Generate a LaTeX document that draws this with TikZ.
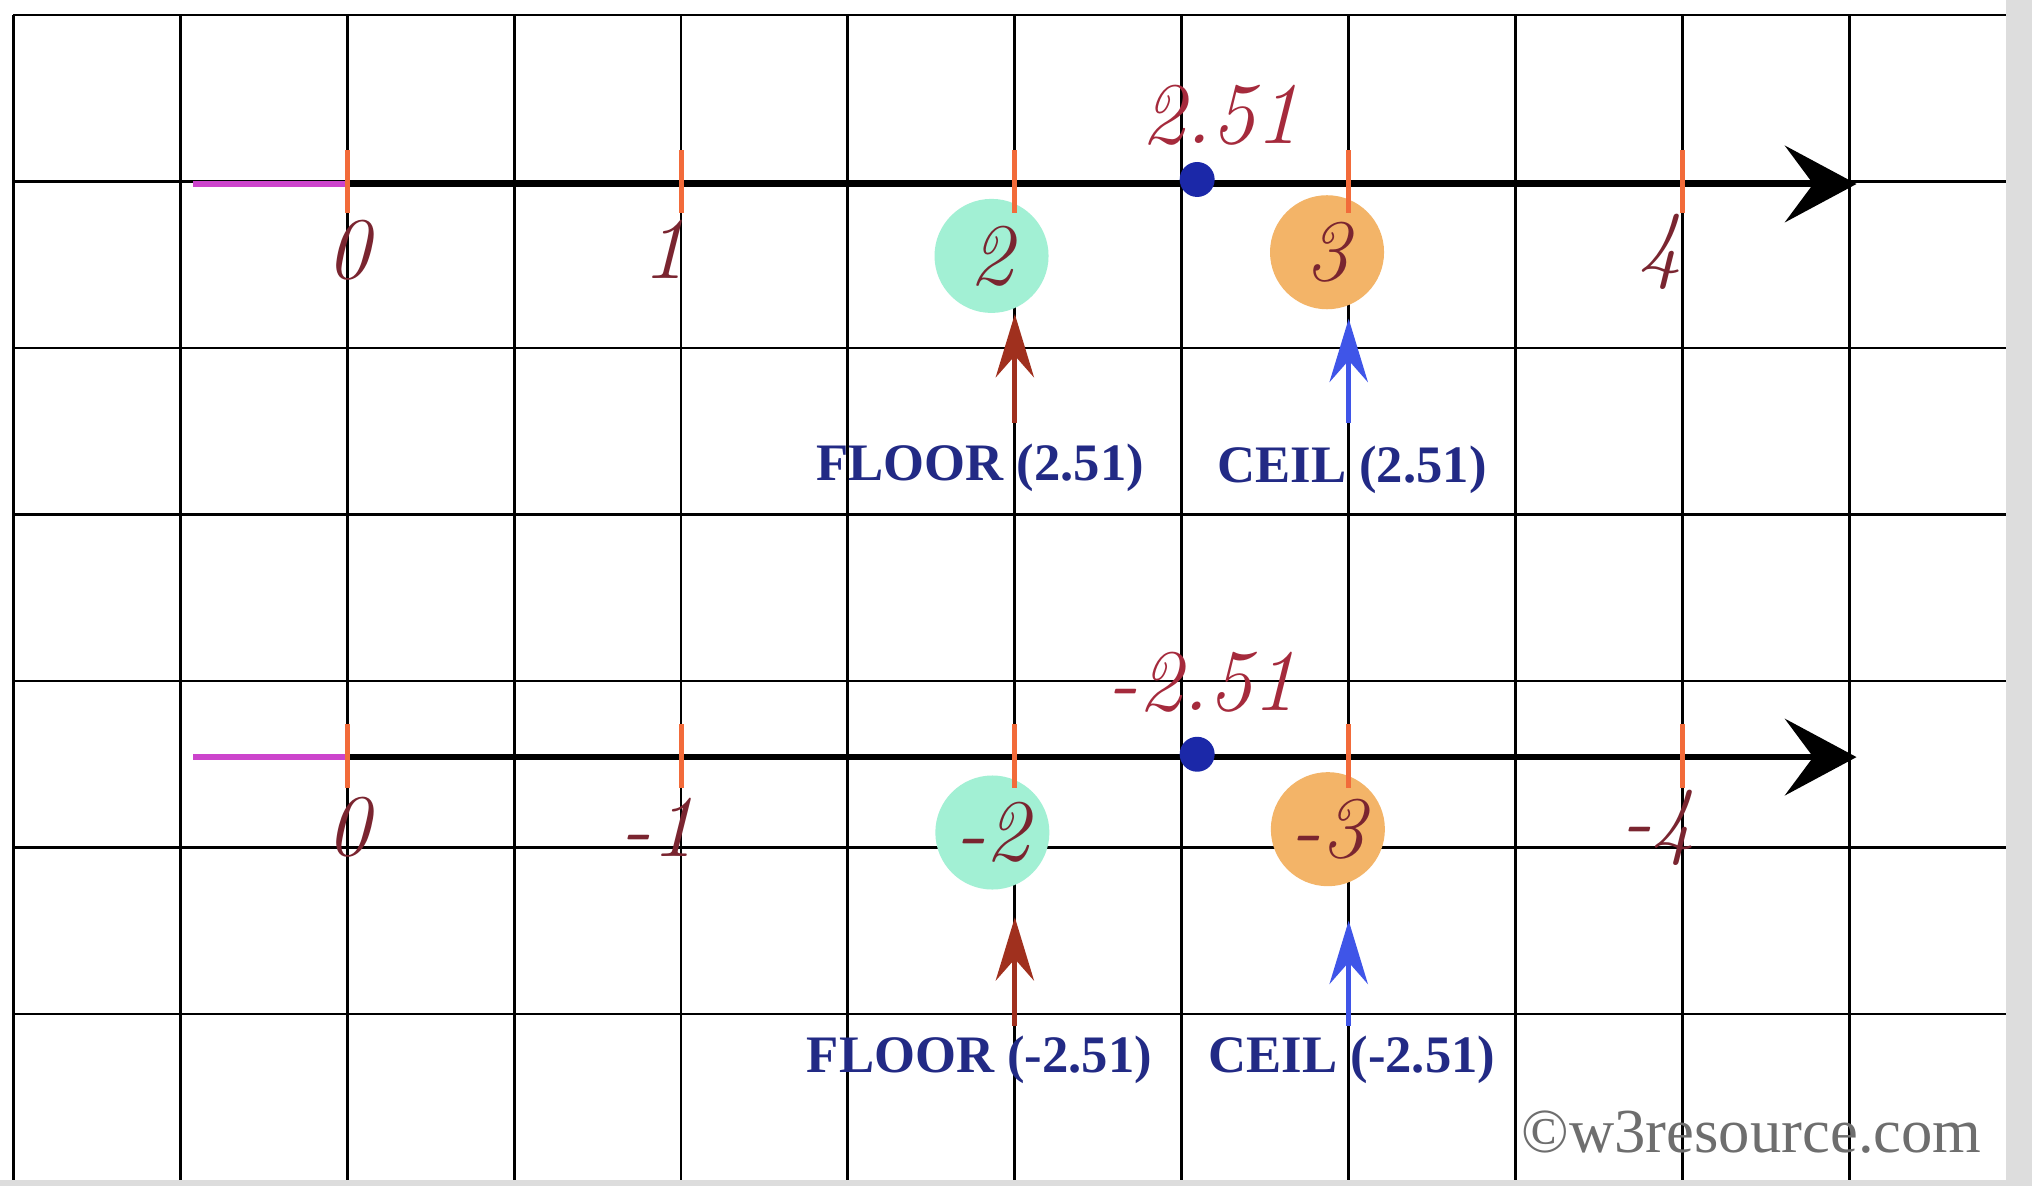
\documentclass[tikz,border=0pt]{standalone}
\usepackage{fontspec}
\newfontfamily\lserif{Liberation Serif}
\usetikzlibrary{arrows.meta}
\definecolor{tickc}{HTML}{F26B3A}
\definecolor{magc}{HTML}{CC44CC}
\definecolor{mintc}{HTML}{A2F0D4}
\definecolor{tanc}{HTML}{F3B468}
\definecolor{numc}{HTML}{7A2530}
\definecolor{valc}{HTML}{A52A3C}
\definecolor{dotc}{HTML}{1B28A8}
\definecolor{floorc}{HTML}{A0301E}
\definecolor{ceilc}{HTML}{3F55E8}
\definecolor{navyc}{HTML}{222A85}
\definecolor{wmc}{HTML}{6E6E6E}
\definecolor{edgec}{HTML}{DDDDDD}
\tikzset{
  gridline/.style={line width=0.5pt, black},
  axisline/.style={line width=1.1pt, black, -{Stealth[length=0.43cm,width=0.46cm,inset=0.17cm]}},
  negline/.style={line width=1.1pt, magc},
  tickmark/.style={rectangle, fill=tickc, minimum width=0.03cm, minimum height=0.38cm, inner sep=0pt},
  numlbl/.style={text=numc, font=\fontsize{15}{18}\selectfont\itshape, inner sep=0pt},
  vallbl/.style={text=valc, font=\fontsize{15}{18}\selectfont\itshape, inner sep=0pt},
  floorcirc/.style={circle, fill=mintc, minimum size=0.685cm, inner sep=0pt, text=numc, font=\fontsize{15}{18}\selectfont\itshape},
  ceilcirc/.style={circle, fill=tanc, minimum size=0.685cm, inner sep=0pt, text=numc, font=\fontsize{15}{18}\selectfont\itshape},
  valdot/.style={circle, fill=dotc, minimum size=0.21cm, inner sep=0pt},
  floorarr/.style={line width=0.85pt, floorc, -{Stealth[length=0.38cm,width=0.23cm,inset=0.13cm]}},
  ceilarr/.style={line width=0.85pt, ceilc, -{Stealth[length=0.38cm,width=0.23cm,inset=0.13cm]}},
  fnlbl/.style={text=navyc, font=\lserif\bfseries\fontsize{9}{11}\selectfont, inner sep=0pt, anchor=base},
  wmlbl/.style={text=wmc, font=\lserif\fontsize{10.7}{13}\selectfont, inner sep=0pt, anchor=base}
}
\begin{document}
\begin{tikzpicture}
\useasboundingbox (0,0) rectangle (12.204,-7.123);
\fill[white] (0,0) rectangle (12.204,-7.123);
\fill[edgec] (12.05,0) rectangle (12.204,-7.123);
\fill[edgec] (0,-7.087) rectangle (12.204,-7.123);
% grid
\foreach \j in {0,...,6} \draw[gridline] (0.08,{-(0.09+\j)}) -- (12.05,{-(0.09+\j)});
\foreach \i in {0,...,11} \draw[gridline] ({0.08+1.0025*\i},-0.09) -- ({0.08+1.0025*\i},-7.087);

% ===== top number line =====
\coordinate (tneg) at (1.16,-1.105);
\coordinate (tzero) at (2.085,-1.105);
\coordinate (tend) at (11.15,-1.105);
\draw[negline] (tneg) -- (tzero);
\draw[axisline] (tzero) -- (tend);
\node[floorcirc] (tfl) at (5.955,-1.537) {2};
\node[ceilcirc] (tce) at (7.97,-1.515) {3};
\foreach \k/\x in {0/2.085,1/4.09,2/6.095,3/8.10,4/10.105}
  \node[tickmark] (tt\k) at (\x,-1.09) {};
\node[numlbl] (tl0) at (2.09,-1.50) {0};
\node[numlbl] (tl1) at (3.99,-1.50) {1};
\node[numlbl] (tl4) at (9.97,-1.51) {4};
\node[valdot] (tdot) at (7.19,-1.078) {};
\node[vallbl] (tval) at (7.33,-0.69) {2.51};
\coordinate (tfa) at (6.095,-2.54);
\coordinate (tca) at (8.10,-2.54);
\draw[floorarr] (tfa) -- (tfa |- tfl.south);
\draw[ceilarr, shorten >=0.05cm] (tca) -- (tca |- tce.south);
\node[fnlbl] (tfloor) at (5.886,-2.885) {FLOOR (2.51)};
\node[fnlbl] (tceil) at (8.12,-2.90) {CEIL (2.51)};

% ===== bottom number line =====
\coordinate (bneg) at (1.16,-4.547);
\coordinate (bzero) at (2.085,-4.547);
\coordinate (bend) at (11.15,-4.547);
\draw[negline] (bneg) -- (bzero);
\draw[axisline] (bzero) -- (bend);
\node[floorcirc] (bfl) at (5.96,-5.0) {-2};
\node[ceilcirc] (bce) at (7.975,-4.98) {-3};
\foreach \k/\x in {0/2.085,1/4.09,2/6.095,3/8.10,4/10.105}
  \node[tickmark] (bt\k) at (\x,-4.54) {};
\node[numlbl] (bl0) at (2.09,-4.97) {0};
\node[numlbl] (bl1) at (3.95,-4.97) {-1};
\node[numlbl] (bl4) at (9.96,-4.97) {-4};
\node[valdot] (bdot) at (7.19,-4.53) {};
\node[vallbl] (bval) at (7.22,-4.10) {-2.51};
\coordinate (bfa) at (6.095,-6.16);
\coordinate (bca) at (8.10,-6.16);
\draw[floorarr, shorten >=0.16cm] (bfa) -- (bfa |- bfl.south);
\draw[ceilarr, shorten >=0.2cm] (bca) -- (bca |- bce.south);
\node[fnlbl] (bfloor) at (5.883,-6.44) {FLOOR (-2.51)};
\node[fnlbl] (bceil) at (8.12,-6.44) {CEIL (-2.51)};

% watermark
\node[wmlbl] (wm) at (10.52,-6.92) {\textcopyright w3resource.com};
\end{tikzpicture}
\end{document}
